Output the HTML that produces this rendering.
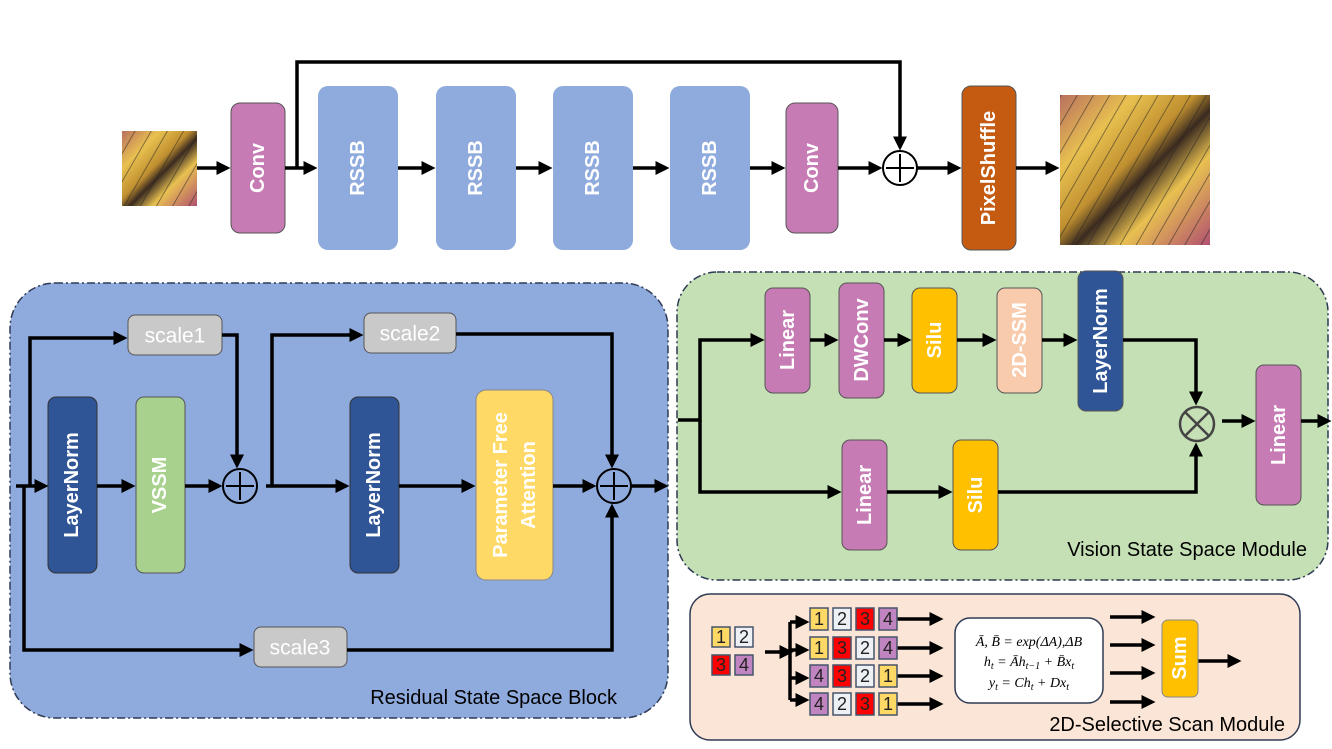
<!DOCTYPE html>
<html><head><meta charset="utf-8"><style>
html,body{margin:0;padding:0;background:#fff;}
svg{display:block;font-family:"Liberation Sans",Arial,sans-serif;}
.vt{fill:#fff;font-size:20px;font-weight:bold;text-anchor:middle;dominant-baseline:central;}
.ln{stroke:#000;stroke-width:3.5;fill:none;}
.lab{font-size:20px;fill:#000;}
.cell{stroke:#44546a;stroke-width:1.5;}
.ct{font-size:18px;text-anchor:middle;dominant-baseline:central;fill:#222;}
</style></head><body>
<svg width="1332" height="749" viewBox="0 0 1332 749" xmlns="http://www.w3.org/2000/svg">
<defs>
<marker id="a" markerWidth="4" markerHeight="4" refX="3" refY="2" orient="auto" markerUnits="strokeWidth"><path d="M0,0 L4,2 L0,4 z" fill="#000"/></marker>
<linearGradient id="bf" x1="0" y1="0" x2="1" y2="1"><stop offset="0" stop-color="#b87060"/><stop offset="0.25" stop-color="#e8c050"/><stop offset="0.45" stop-color="#c09030"/><stop offset="0.55" stop-color="#3a2a20"/><stop offset="0.7" stop-color="#e8c050"/><stop offset="1" stop-color="#b05070"/></linearGradient>
<pattern id="vein" width="14" height="14" patternUnits="userSpaceOnUse" patternTransform="rotate(30)"><rect width="14" height="14" fill="none"/><line x1="0" y1="0" x2="0" y2="14" stroke="#222" stroke-width="2" opacity="0.5"/></pattern>
</defs>
<!-- top row -->
<rect x="122" y="131" width="75" height="75" fill="url(#bf)"/>
<rect x="122" y="131" width="75" height="75" fill="url(#vein)"/>
<rect x="1060" y="95" width="150" height="150" fill="url(#bf)"/>
<rect x="1060" y="95" width="150" height="150" fill="url(#vein)"/>
<rect x="231" y="103" width="54" height="130" rx="9" fill="#c77bb4" stroke="#555" stroke-width="1"/>
<text class="vt" transform="translate(258,168) rotate(-90)">Conv</text>
<g fill="#8faadc">
<rect x="318" y="86" width="80" height="164" rx="10"/><rect x="436" y="86" width="80" height="164" rx="10"/>
<rect x="553" y="86" width="80" height="164" rx="10"/><rect x="670" y="86" width="80" height="164" rx="10"/>
</g>
<text class="vt" transform="translate(358,168) rotate(-90)">RSSB</text>
<text class="vt" transform="translate(476,168) rotate(-90)">RSSB</text>
<text class="vt" transform="translate(593,168) rotate(-90)">RSSB</text>
<text class="vt" transform="translate(710,168) rotate(-90)">RSSB</text>
<rect x="786" y="103" width="52" height="130" rx="9" fill="#c77bb4" stroke="#555" stroke-width="1"/>
<text class="vt" transform="translate(812,168) rotate(-90)">Conv</text>
<rect x="962" y="86" width="54" height="164" rx="9" fill="#c55a11" stroke="#555" stroke-width="1"/>
<text class="vt" transform="translate(989,168) rotate(-90)">PixelShuffle</text>
<circle cx="900" cy="168" r="17" fill="#fff" stroke="#000" stroke-width="2"/>
<path d="M886,168 H914 M900,154 V182" stroke="#000" stroke-width="2"/>
<g class="ln" marker-end="url(#a)">
<line x1="197" y1="168" x2="227" y2="168"/><line x1="285" y1="168" x2="314" y2="168"/>
<line x1="398" y1="168" x2="432" y2="168"/><line x1="516" y1="168" x2="549" y2="168"/>
<line x1="633" y1="168" x2="666" y2="168"/><line x1="750" y1="168" x2="782" y2="168"/>
<line x1="838" y1="168" x2="879" y2="168"/><line x1="917" y1="168" x2="958" y2="168"/>
<line x1="1016" y1="168" x2="1056" y2="168"/>
<path d="M297,168 V62 H900 V147"/>
</g>
<!-- left panel -->
<rect x="10" y="283" width="658" height="435" rx="45" fill="#8faadc" stroke="#2f3b55" stroke-width="1.5" stroke-dasharray="8,3,2,3"/>
<rect x="48" y="397" width="49" height="176" rx="8" fill="#2f5597" stroke="#333"/>
<text class="vt" transform="translate(72,485) rotate(-90)">LayerNorm</text>
<rect x="136" y="397" width="49" height="176" rx="8" fill="#a9d18e" stroke="#555"/>
<text class="vt" transform="translate(160,485) rotate(-90)">VSSM</text>
<rect x="350" y="397" width="49" height="176" rx="8" fill="#2f5597" stroke="#333"/>
<text class="vt" transform="translate(374,485) rotate(-90)">LayerNorm</text>
<rect x="476" y="390" width="77" height="190" rx="10" fill="#ffd966" stroke="#888"/>
<text class="vt" transform="translate(501,485) rotate(-90)">Parameter Free</text>
<text class="vt" transform="translate(529,485) rotate(-90)">Attention</text>
<g fill="#c9c9c9" stroke="#555"><rect x="128" y="315" width="94" height="40" rx="7"/><rect x="364" y="313" width="92" height="40" rx="7"/><rect x="254" y="627" width="93" height="40" rx="7"/></g>
<g fill="#fff" font-size="21" text-anchor="middle" dominant-baseline="central"><text x="175" y="336">scale1</text><text x="410" y="334">scale2</text><text x="300" y="648">scale3</text></g>
<g fill="none" stroke="#000" stroke-width="2"><circle cx="240" cy="486" r="17"/><circle cx="614" cy="486" r="17"/></g>
<path d="M226,486 H254 M240,472 V500 M600,486 H628 M614,472 V500" stroke="#000" stroke-width="2"/>
<g class="ln" marker-end="url(#a)">
<line x1="16" y1="486" x2="45" y2="486"/><line x1="97" y1="486" x2="132" y2="486"/>
<line x1="185" y1="486" x2="219" y2="486"/>
<line x1="266" y1="486" x2="346" y2="486"/><line x1="399" y1="486" x2="472" y2="486"/>
<line x1="553" y1="486" x2="593" y2="486"/><line x1="631" y1="486" x2="665" y2="486"/>
<path d="M30,486 V338 H124"/><path d="M222,335 H237 V465"/>
<path d="M272,486 V335 H360"/><path d="M456,334 H612 V465"/>
<path d="M24,486 V650 H250"/><path d="M347,650 H612 V507"/>
</g>
<text class="lab" x="617" y="704" text-anchor="end">Residual State Space Block</text>
<!-- green panel -->
<rect x="677" y="272" width="651" height="308" rx="40" fill="#c5e0b4" stroke="#2f3b55" stroke-width="1.5" stroke-dasharray="8,3,2,3"/>
<g stroke="#555">
<rect x="765" y="288" width="45" height="105" rx="8" fill="#c77bb4"/>
<rect x="839" y="283" width="45" height="115" rx="8" fill="#c77bb4"/>
<rect x="912" y="288" width="45" height="105" rx="8" fill="#ffc000"/>
<rect x="997" y="288" width="45" height="105" rx="8" fill="#f8cbad"/>
<rect x="1078" y="271" width="45" height="140" rx="8" fill="#2f5597"/>
<rect x="842" y="440" width="45" height="110" rx="8" fill="#c77bb4"/>
<rect x="953" y="440" width="45" height="110" rx="8" fill="#ffc000"/>
<rect x="1256" y="365" width="45" height="140" rx="8" fill="#c77bb4"/>
</g>
<text class="vt" transform="translate(788,340) rotate(-90)">Linear</text>
<text class="vt" transform="translate(862,340) rotate(-90)">DWConv</text>
<text class="vt" transform="translate(935,340) rotate(-90)">Silu</text>
<text class="vt" transform="translate(1020,340) rotate(-90)">2D-SSM</text>
<text class="vt" transform="translate(1101,341) rotate(-90)">LayerNorm</text>
<text class="vt" transform="translate(865,495) rotate(-90)">Linear</text>
<text class="vt" transform="translate(976,495) rotate(-90)">Silu</text>
<text class="vt" transform="translate(1279,435) rotate(-90)">Linear</text>
<circle cx="1197" cy="424" r="17" fill="none" stroke="#444" stroke-width="2.5"/>
<path d="M1185,412 L1209,436 M1209,412 L1185,436" stroke="#444" stroke-width="2.5"/>
<g class="ln" marker-end="url(#a)">
<path d="M678,420 H700 V340 H761"/><path d="M700,420 V492 H838"/>
<line x1="810" y1="340" x2="835" y2="340"/><line x1="884" y1="340" x2="908" y2="340"/>
<line x1="957" y1="340" x2="993" y2="340"/><line x1="1042" y1="340" x2="1074" y2="340"/>
<path d="M1123,340 H1196 V402"/>
<line x1="887" y1="492" x2="949" y2="492"/><path d="M998,492 H1196 V446"/>
<line x1="1222" y1="421" x2="1252" y2="421"/><line x1="1301" y1="421" x2="1328" y2="421"/>
</g>
<text class="lab" x="1307" y="556" text-anchor="end">Vision State Space Module</text>
<!-- bottom panel -->
<rect x="690" y="594" width="610" height="146" rx="20" fill="#fbe5d6" stroke="#2f3b55" stroke-width="1.5"/>
<g class="cell">
<rect x="712" y="627" width="18" height="20" fill="#ffd966"/><rect x="735" y="627" width="18" height="20" fill="#edf0f5"/>
<rect x="712" y="655" width="18" height="20" fill="#f00"/><rect x="735" y="655" width="18" height="20" fill="#c084c0"/>
</g>
<g class="ct"><text x="721" y="637">1</text><text x="744" y="637">2</text><text x="721" y="665">3</text><text x="744" y="665">4</text></g>
<g class="ln" marker-end="url(#a)">
<path d="M765,652 H790"/>
<path d="M790,622 V700" marker-end="none"/>
<line x1="790" y1="622" x2="806" y2="622"/><line x1="790" y1="650" x2="806" y2="650"/>
<line x1="790" y1="678" x2="806" y2="678"/><line x1="790" y1="700" x2="806" y2="700"/>
<line x1="897" y1="619" x2="940" y2="619"/><line x1="897" y1="648" x2="940" y2="648"/>
<line x1="897" y1="676" x2="940" y2="676"/><line x1="897" y1="704" x2="940" y2="704"/>
<line x1="1110" y1="617" x2="1152" y2="617"/><line x1="1110" y1="645" x2="1152" y2="645"/>
<line x1="1110" y1="673" x2="1152" y2="673"/><line x1="1110" y1="702" x2="1152" y2="702"/>
<line x1="1198" y1="661" x2="1238" y2="661"/>
</g>
<g class="cell">
<rect x="810" y="608" width="18" height="22" fill="#ffd966"/><rect x="833" y="608" width="18" height="22" fill="#edf0f5"/><rect x="856" y="608" width="18" height="22" fill="#f00"/><rect x="879" y="608" width="18" height="22" fill="#c084c0"/>
<rect x="810" y="637" width="18" height="22" fill="#ffd966"/><rect x="833" y="637" width="18" height="22" fill="#f00"/><rect x="856" y="637" width="18" height="22" fill="#edf0f5"/><rect x="879" y="637" width="18" height="22" fill="#c084c0"/>
<rect x="810" y="665" width="18" height="22" fill="#c084c0"/><rect x="833" y="665" width="18" height="22" fill="#f00"/><rect x="856" y="665" width="18" height="22" fill="#edf0f5"/><rect x="879" y="665" width="18" height="22" fill="#ffd966"/>
<rect x="810" y="693" width="18" height="22" fill="#c084c0"/><rect x="833" y="693" width="18" height="22" fill="#edf0f5"/><rect x="856" y="693" width="18" height="22" fill="#f00"/><rect x="879" y="693" width="18" height="22" fill="#ffd966"/>
</g>
<g class="ct">
<text x="819" y="619">1</text><text x="842" y="619">2</text><text x="865" y="619">3</text><text x="888" y="619">4</text>
<text x="819" y="648">1</text><text x="842" y="648">3</text><text x="865" y="648">2</text><text x="888" y="648">4</text>
<text x="819" y="676">4</text><text x="842" y="676">3</text><text x="865" y="676">2</text><text x="888" y="676">1</text>
<text x="819" y="704">4</text><text x="842" y="704">2</text><text x="865" y="704">3</text><text x="888" y="704">1</text>
</g>
<rect x="955" y="618" width="148" height="85" rx="15" fill="#fff" stroke="#2f3b55" stroke-width="1.5"/>
<g font-family="Liberation Serif,serif" font-size="14" font-style="italic" text-anchor="middle">
<text x="1029" y="646">Ā, B̄ = exp(ΔA),ΔB</text>
<text x="1029" y="666">h<tspan font-size="10" dy="3">t</tspan><tspan dy="-3"> = Āh</tspan><tspan font-size="10" dy="3">t−1</tspan><tspan dy="-3"> + B̄x</tspan><tspan font-size="10" dy="3">t</tspan></text>
<text x="1029" y="687">y<tspan font-size="10" dy="3">t</tspan><tspan dy="-3"> = Ch</tspan><tspan font-size="10" dy="3">t</tspan><tspan dy="-3"> + Dx</tspan><tspan font-size="10" dy="3">t</tspan></text>
</g>
<rect x="1162" y="620" width="36" height="77" rx="6" fill="#ffc000" stroke="#888"/>
<text class="vt" transform="translate(1180,658) rotate(-90)">Sum</text>
<text class="lab" x="1285" y="731" text-anchor="end">2D-Selective Scan Module</text>
</svg>
</body></html>
